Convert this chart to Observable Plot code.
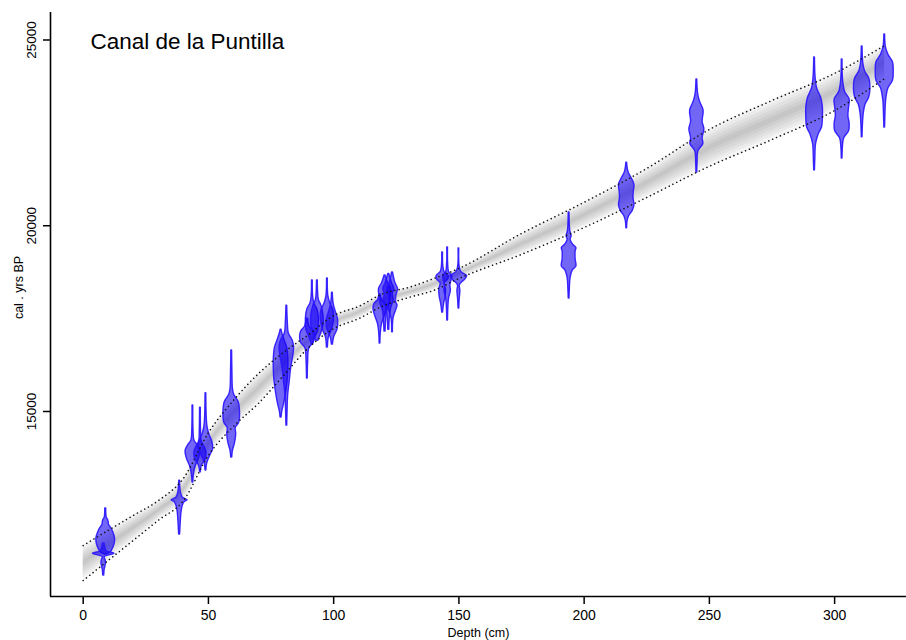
<!DOCTYPE html>
<html><head><meta charset="utf-8">
<script src="https://cdn.jsdelivr.net/npm/d3@7"></script>
<script src="https://cdn.jsdelivr.net/npm/@observablehq/plot@0.6"></script>
<style>body{margin:0;background:#fff} #chart svg{display:block}</style>
</head><body><div id="chart"></div>
<script>
const title = "Canal de la Puntilla";
const xLabel = "Depth (cm)";
const yLabel = "cal . yrs BP";
const xTicks = [0, 50, 100, 150, 200, 250, 300];
const yTicks = [15000, 20000, 25000];
const xDomain = [-13.05, 328.7];
const yDomain = [10020, 25740];

// age-depth model (95% range and centre)
const bandDepth = [0, 10, 20, 30, 40, 50, 60, 70, 80, 90, 100, 110, 120, 130, 140, 150, 175, 200, 225, 250, 275, 300, 320];
const bandUpper = [11390, 11800, 12200, 12600, 13200, 14430, 15300, 16020, 16590, 17070, 17580, 17830, 18180, 18340, 18580, 18850, 19790, 20630, 21540, 22590, 23370, 24100, 24850];
const bandMean  = [10920, 11400, 11860, 12330, 12900, 14120, 14950, 15620, 16280, 16900, 17400, 17660, 18010, 18200, 18420, 18710, 19500, 20280, 21150, 22090, 22840, 23600, 24400];
const bandLower = [10450, 10990, 11530, 12070, 12600, 13820, 14600, 15220, 15970, 16720, 17230, 17500, 17850, 18070, 18260, 18580, 19230, 19950, 20760, 21600, 22320, 23100, 23960];

// calibrated dates: depth and [age, half-width (cm)] profiles
const dateDepth = [9.0, 8.2, 38.5, 43.8, 46.8, 49.0, 59.3, 79.0, 81.3, 89.5, 91.5, 93.5, 97.5, 99.5, 118.5, 120.5, 122.0, 123.5, 143.5, 145.5, 150.0, 194.0, 217.0, 245.0, 292.0, 303.0, 311.0, 320.0];
const dateProfile = [
  [[11150,0.3],[11204,2.0],[11300,2.8],[11450,3.6],[11600,3.7],[11750,3.0],[11850,2.3],[11950,1.3],[12010,1.2],[12070,1.0],[12150,0.4],[12390,0.2]],
  [[10585,0.2],[10750,0.4],[10900,0.9],[10990,0.8],[11080,0.4],[11170,4.3],[11240,1.2],[11350,0.6],[11450,0.3]],
  [[11690,0.2],[12000,0.45],[12250,0.7],[12450,1.2],[12560,2.0],[12610,3.2],[12680,1.3],[12800,0.6],[12950,0.3],[13140,0.15]],
  [[13090,0.15],[13300,0.4],[13500,1.0],[13750,2.5],[13950,2.9],[14100,1.8],[14220,0.6],[14500,0.25],[15160,0.15]],
  [[13360,0.15],[13550,0.6],[13700,2.0],[13900,2.4],[14050,1.6],[14200,0.5],[14500,0.25],[15100,0.15]],
  [[13410,0.15],[13600,0.5],[13820,1.8],[14000,2.9],[14200,2.5],[14400,1.3],[14600,0.6],[14900,0.3],[15490,0.15]],
  [[13760,0.2],[13950,0.5],[14140,1.3],[14400,1.8],[14550,1.6],[14700,3.0],[15000,3.3],[15250,2.8],[15450,1.0],[15600,0.5],[16000,0.3],[16640,0.15]],
  [[14840,0.2],[15000,0.5],[15200,1.2],[15500,2.0],[15800,2.6],[16100,2.9],[16400,2.9],[16700,2.5],[16900,1.5],[17100,0.5],[17200,0.2]],
  [[14620,0.15],[15000,0.3],[15400,0.5],[15835,1.2],[16200,1.8],[16500,2.6],[16750,2.9],[16900,2.4],[17100,0.8],[17400,0.4],[17850,0.15]],
  [[15890,0.15],[16300,0.3],[16700,0.8],[16850,2.5],[17000,2.9],[17150,2.5],[17300,0.8],[17500,0.3]],
  [[16800,0.2],[17000,1.2],[17200,2.4],[17500,2.6],[17750,2.0],[17900,0.8],[18100,0.3],[18530,0.15]],
  [[16900,0.3],[17100,1.5],[17350,2.5],[17600,2.4],[17850,1.6],[18000,0.6],[18200,0.3],[18530,0.15]],
  [[16720,0.2],[17000,0.6],[17200,1.8],[17450,2.6],[17700,2.5],[17900,1.2],[18100,0.4],[18580,0.15]],
  [[16800,0.2],[17000,0.7],[17200,2.0],[17450,2.3],[17650,1.5],[17900,0.5],[18200,0.15]],
  [[16830,0.15],[17100,0.3],[17350,0.8],[17550,1.8],[17750,2.6],[17900,2.2],[18000,0.8],[18150,0.2]],
  [[17150,0.2],[17400,0.4],[17700,0.8],[17900,1.8],[18100,2.2],[18300,2.4],[18450,1.2],[18660,0.2]],
  [[17200,0.2],[17500,0.4],[17800,1.0],[18000,2.0],[18150,1.6],[18300,2.2],[18450,1.3],[18700,0.2]],
  [[17130,0.15],[17500,0.4],[17700,1.3],[17850,2.0],[17950,1.4],[18100,1.5],[18300,2.2],[18450,1.2],[18740,0.2]],
  [[17660,0.15],[17900,0.6],[18100,1.2],[18300,1.3],[18450,0.8],[18550,2.2],[18650,2.4],[18750,0.8],[18900,0.3],[19280,0.15]],
  [[17450,0.15],[17800,0.3],[18050,0.6],[18250,1.3],[18400,1.1],[18550,1.6],[18650,1.8],[18750,0.6],[19000,0.2],[19415,0.15]],
  [[17770,0.15],[18000,0.3],[18250,0.6],[18400,0.4],[18550,2.5],[18650,3.3],[18750,1.0],[18900,0.3],[19390,0.15]],
  [[18040,0.15],[18300,0.3],[18600,0.6],[18800,1.5],[18900,2.9],[19100,2.6],[19300,2.6],[19400,2.9],[19500,1.5],[19620,0.6],[19720,1.0],[19850,0.5],[20000,0.3],[20360,0.15]],
  [[19930,0.15],[20100,0.3],[20250,0.9],[20400,2.4],[20550,3.1],[20750,2.7],[20900,2.8],[21100,3.1],[21250,2.2],[21450,0.7],[21700,0.15]],
  [[21430,0.15],[21700,0.3],[22000,0.6],[22200,2.6],[22350,2.3],[22600,3.0],[22800,2.3],[23100,2.7],[23350,1.2],[23550,0.5],[23940,0.15]],
  [[21490,0.15],[21800,0.3],[22200,0.6],[22450,1.6],[22650,3.0],[22900,3.3],[23200,3.3],[23450,2.6],[23700,1.0],[24000,0.4],[24530,0.15]],
  [[21810,0.15],[22100,0.3],[22350,0.8],[22550,2.8],[22750,3.0],[22950,2.5],[23200,2.8],[23400,3.0],[23600,1.2],[23900,0.4],[24475,0.15]],
  [[22380,0.15],[22700,0.3],[23000,0.6],[23250,1.3],[23450,2.8],[23700,3.3],[23950,2.9],[24150,1.2],[24350,0.5],[24825,0.15]],
  [[22645,0.15],[23000,0.3],[23400,0.6],[23700,1.5],[23900,3.3],[24150,3.6],[24400,3.3],[24600,1.5],[24800,0.5],[25150,0.15]]
];

const band = bandDepth.map((d, i) => ({depth: d, upper: bandUpper[i], mean: bandMean[i], lower: bandLower[i]}));
const dates = dateProfile.flatMap((p, id) => p.map(([age, hw]) => ({id, depth: dateDepth[id], age, hw})));
const shadeLevels = [1.05, 0.85, 0.68, 0.5, 0.32, 0.15];

const shadeMarks = shadeLevels.map(f => Plot.areaY(band, {
  x: "depth",
  y1: d => d.mean - f * (d.mean - d.lower),
  y2: d => d.mean + f * (d.upper - d.mean),
  curve: "monotone-x", fill: "#000", fillOpacity: 0.04
}));

const chart = Plot.plot({
  width: 906, height: 640,
  marginLeft: 50, marginRight: 0, marginTop: 12, marginBottom: 44,
  style: {fontFamily: "'Liberation Sans', Arial, sans-serif", background: "#fff", color: "#000"},
  x: {domain: xDomain, axis: null},
  y: {domain: yDomain, axis: null},
  marks: [
    ...shadeMarks,
    Plot.areaX(dates, {
      y: "age", x1: d => d.depth - d.hw, x2: d => d.depth + d.hw, z: "id",
      curve: "catmull-rom", fill: "#1400f0", fillOpacity: 0.6,
      stroke: "#2a14ff", strokeWidth: 1.4, strokeOpacity: 0.9
    }),
    Plot.line(band, {x: "depth", y: "upper", curve: "monotone-x", stroke: "#111", strokeWidth: 1.6, strokeDasharray: "0.01 4.2", strokeLinecap: "round"}),
    Plot.line(band, {x: "depth", y: "lower", curve: "monotone-x", stroke: "#111", strokeWidth: 1.6, strokeDasharray: "0.01 4.2", strokeLinecap: "round"}),
    Plot.ruleX([xDomain[0]], {strokeWidth: 1.6}),
    Plot.ruleY([yDomain[0]], {strokeWidth: 1.6}),
    Plot.axisX({ticks: xTicks, tickSize: 8, tickPadding: 6, fontSize: 14, label: null, strokeWidth: 1.5}),
    Plot.axisY({ticks: yTicks, tickSize: 7, tickFormat: () => "", label: null, strokeWidth: 1.5}),
    Plot.text(yTicks, {y: d => d, text: d => String(d), frameAnchor: "left", rotate: -90, dx: -19, textAnchor: "middle", lineAnchor: "middle", fontSize: 13.5}),
    Plot.text([yLabel], {text: d => d, frameAnchor: "left", rotate: -90, dx: -32, dy: -17, textAnchor: "middle", lineAnchor: "middle", fontSize: 12.5}),
    Plot.text([xLabel], {text: d => d, frameAnchor: "bottom", dy: 36, textAnchor: "middle", lineAnchor: "middle", fontSize: 12.5}),
    Plot.text([title], {text: d => d, frameAnchor: "top-left", dx: 40, dy: 29, textAnchor: "start", lineAnchor: "middle", fontSize: 22.5})
  ]
});
document.getElementById("chart").append(chart);
</script>
</body></html>
